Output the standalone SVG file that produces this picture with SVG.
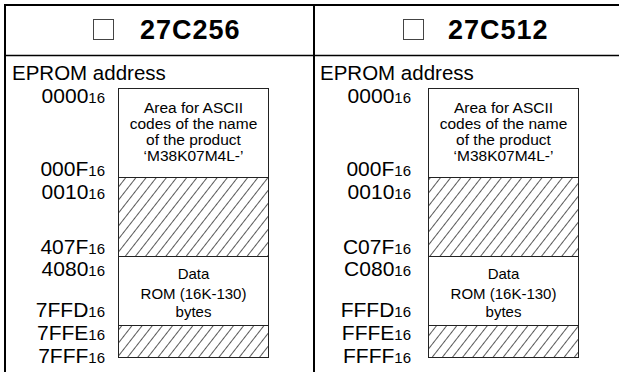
<svg xmlns="http://www.w3.org/2000/svg" width="619" height="372" viewBox="0 0 619 372">
<style>
text{font-family:"Liberation Sans",Arial,sans-serif;fill:#000}
.title{font-size:27px;font-weight:bold;letter-spacing:1px}
.hdr{font-size:20.5px}
.addr{font-size:21px;text-anchor:end}
.sub{font-size:15px}
.bt{font-size:15px;text-anchor:middle}
.bt2{font-size:15.5px;text-anchor:middle}
.frame{stroke:#000;stroke-width:2;fill:none}
.sep{stroke:#000;stroke-width:1.5;fill:none}
.box{stroke:#222;stroke-width:1;fill:#fff}
.hatch{stroke:#222;stroke-width:1;fill:url(#h)}
.chk{stroke:#444;stroke-width:1;fill:#fff}
</style>
<defs>
<pattern id="h" patternUnits="userSpaceOnUse" width="8" height="20" patternTransform="rotate(38)">
<line x1="0" y1="-5" x2="0" y2="25" stroke="#000" stroke-width="1.3"/>
</pattern>
</defs>
<rect width="619" height="372" fill="#fff"/>
<g id="frame">
<path class="frame" d="M5,372 V5 H619 M314,5 V372"/>
<path class="sep" d="M5,55.5 H619"/>
</g>
<g id="col-27C256">
<rect class="chk" x="93.5" y="19.5" width="20" height="20"/>
<text class="title" x="140" y="39">27C256</text>
<text class="hdr" x="12" y="80">EPROM address</text>
<text class="addr" x="105" y="103">0000<tspan class="sub">16</tspan></text>
<text class="addr" x="105" y="176">000F<tspan class="sub">16</tspan></text>
<text class="addr" x="105" y="199">0010<tspan class="sub">16</tspan></text>
<text class="addr" x="105" y="254">407F<tspan class="sub">16</tspan></text>
<text class="addr" x="105" y="276">4080<tspan class="sub">16</tspan></text>
<text class="addr" x="105" y="317">7FFD<tspan class="sub">16</tspan></text>
<text class="addr" x="105" y="340">7FFE<tspan class="sub">16</tspan></text>
<text class="addr" x="105" y="363">7FFF<tspan class="sub">16</tspan></text>
<rect class="box" x="118.5" y="88.5" width="150" height="89"/>
<rect class="hatch" x="118.5" y="177.5" width="150" height="79"/>
<rect class="box" x="118.5" y="256.5" width="150" height="69"/>
<rect class="hatch" x="118.5" y="325.5" width="150" height="32"/>
<text class="bt2" x="193.5" y="113">Area for ASCII</text>
<text class="bt2" x="193.5" y="129">codes of the name</text>
<text class="bt2" x="193.5" y="145">of the product</text>
<text class="bt2" x="193.5" y="160.5">‘M38K07M4L-’</text>
<text class="bt" x="193.5" y="279">Data</text>
<text class="bt" x="193.5" y="298.5">ROM (16K-130)</text>
<text class="bt" x="193.5" y="317">bytes</text>
</g>
<g id="col-27C512">
<rect class="chk" x="403.5" y="19.5" width="20" height="20"/>
<text class="title" x="448" y="39">27C512</text>
<text class="hdr" x="320" y="80">EPROM address</text>
<text class="addr" x="411" y="103">0000<tspan class="sub">16</tspan></text>
<text class="addr" x="411" y="176">000F<tspan class="sub">16</tspan></text>
<text class="addr" x="411" y="199">0010<tspan class="sub">16</tspan></text>
<text class="addr" x="411" y="254">C07F<tspan class="sub">16</tspan></text>
<text class="addr" x="411" y="276">C080<tspan class="sub">16</tspan></text>
<text class="addr" x="411" y="317">FFFD<tspan class="sub">16</tspan></text>
<text class="addr" x="411" y="340">FFFE<tspan class="sub">16</tspan></text>
<text class="addr" x="411" y="363">FFFF<tspan class="sub">16</tspan></text>
<rect class="box" x="428.5" y="88.5" width="150" height="89"/>
<rect class="hatch" x="428.5" y="177.5" width="150" height="79"/>
<rect class="box" x="428.5" y="256.5" width="150" height="69"/>
<rect class="hatch" x="428.5" y="325.5" width="150" height="32"/>
<text class="bt2" x="503.5" y="113">Area for ASCII</text>
<text class="bt2" x="503.5" y="129">codes of the name</text>
<text class="bt2" x="503.5" y="145">of the product</text>
<text class="bt2" x="503.5" y="160.5">‘M38K07M4L-’</text>
<text class="bt" x="503.5" y="279">Data</text>
<text class="bt" x="503.5" y="298.5">ROM (16K-130)</text>
<text class="bt" x="503.5" y="317">bytes</text>
</g>
</svg>
